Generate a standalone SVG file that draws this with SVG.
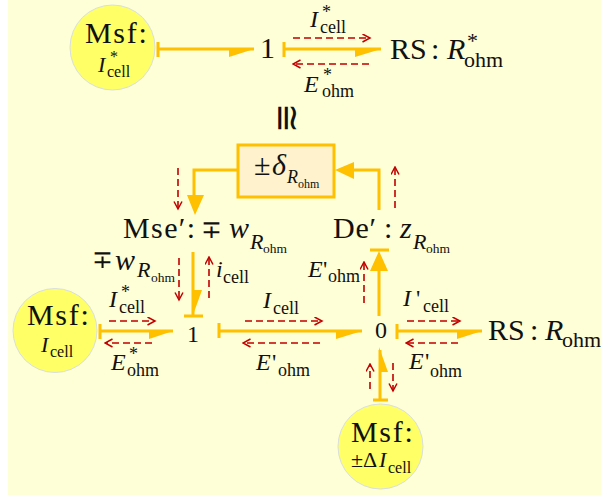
<svg xmlns="http://www.w3.org/2000/svg" width="601" height="497" viewBox="0 0 601 497">
<defs><marker id="red" markerWidth="10" markerHeight="10" refX="8.5" refY="4.5" orient="auto" markerUnits="userSpaceOnUse"><path d="M1 0.5L8.5 4.5L1 8.5" fill="none" stroke="#c00000" stroke-width="1.5"/></marker></defs>
<style>
text{font-family:"Liberation Serif","Times New Roman",serif;fill:#111}
.i{font-style:italic}
.f30{font-size:30px}
.ms{font-size:30px;letter-spacing:1.7px}
.f24{font-size:24px}
.f22{font-size:22px}
.f18{font-size:18px}
.f16{font-size:16px}
.f13{font-size:13.5px}
.f12{font-size:12px}
.mp{font-size:25px;font-family:"DejaVu Sans",sans-serif;font-weight:200}
.bond{stroke:#ffc000;stroke-width:3;fill:none}
.head{fill:#ffc000;stroke:none}
.sig{stroke:#c00000;stroke-width:1.6;stroke-dasharray:7 4;fill:none;marker-end:url(#red)}
.src{fill:#ffff66;stroke:#d8dfe0;stroke-width:1}
</style>
<rect width="601" height="497" fill="#ffffff"/>
<rect x="8" y="0" width="593" height="495" fill="#ffffd7"/>
<g id="connectors">
<path class="bond" d="M158 49H254M284 49H381M193 252V315M219 331H362M397 331H482M380 400V350M379 270V316M100 331H173M379 210V170H340M237 170H194V198"/>
<path class="head" d="M229 57L254 49H229ZM355 57L381 49H355ZM149 339L173 331H149ZM457 339L482 331H457ZM193 315L202 290H193ZM379 347L388 372H379ZM336 339L362 331H336ZM370 271L379 251 388 271ZM335 170L354 162V179ZM195 215L187 195H204Z"/>
<path class="bond" d="M158 42V57M284 42V57M100 324V339M184 316H203M219 323V338M397 324V339M373 400H388M370 250H389"/>
<path class="sig" d="M293 38H370"/><path class="sig" d="M369 64H293"/>
<path class="sig" d="M178 168V209"/><path class="sig" d="M395 208V167"/>
<path class="sig" d="M179 258V300"/><path class="sig" d="M209 298V257"/><path class="sig" d="M364 303V262"/>
<path class="sig" d="M109 321H155"/><path class="sig" d="M152 343H105"/>
<path class="sig" d="M245 321H322"/><path class="sig" d="M320 343H243"/>
<path class="sig" d="M407 321H460"/><path class="sig" d="M458 343H406"/>
<path class="sig" d="M370 389V364"/><path class="sig" d="M393 363V391"/>
</g>
<g id="msf-top"><circle class="src" cx="112.500" cy="47.500" r="42.500"/><text class="ms" x="85" y="43">Msf:</text><text x="98" y="72"><tspan class="f22 i">I</tspan><tspan class="f16" x="110" y="62">*</tspan><tspan class="f16" x="107" y="77">cell</tspan></text></g>
<g id="one-top"><text class="f30" x="260" y="58">1</text></g>
<g id="rs-top"><text x="390" y="59"><tspan class="f30">RS</tspan><tspan class="f30" x="431">:</tspan><tspan class="f30 i" x="447">R</tspan><tspan class="f22" x="467" y="48">*</tspan><tspan class="f22" x="464" y="67">ohm</tspan></text></g>
<g id="lbl-top"><text x="310" y="27"><tspan class="f24 i">I</tspan><tspan class="f18" x="322" y="18">*</tspan><tspan class="f18" x="320" y="33">cell</tspan></text><text x="304" y="92"><tspan class="f24 i">E</tspan><tspan class="f18" x="323" y="81">*</tspan><tspan class="f18" x="322" y="97">ohm</tspan></text></g>
<g id="equiv"><text class="f30" style="font-size:36px" transform="translate(275 103) rotate(90)">≅</text></g>
<g id="delta"><rect x="238" y="145" width="96" height="52" fill="#fff2cc" stroke="#ffc000" stroke-width="3"/><text x="254" y="175"><tspan class="f30">±</tspan><tspan class="f30 i" x="272">δ</tspan><tspan class="f18 i" x="287" y="183">R</tspan><tspan class="f12" x="298" y="188">ohm</tspan></text></g>
<g id="mse"><text x="123" y="238"><tspan class="f30" letter-spacing="1.4">Mse′:</tspan><tspan class="mp" x="201">∓</tspan><tspan class="f30 i" x="229">w</tspan><tspan class="f22 i" x="250" y="249">R</tspan><tspan class="f13" x="263" y="253">ohm</tspan></text></g>
<g id="de"><text x="333" y="238"><tspan class="f30" letter-spacing="0.8">De′</tspan><tspan class="f30" x="384">:</tspan><tspan class="f30 i" x="400">z</tspan><tspan class="f22 i" x="413" y="249">R</tspan><tspan class="f13" x="426" y="253">ohm</tspan></text></g>
<g id="lbl-w"><text x="92" y="268"><tspan class="mp">∓</tspan><tspan class="f30 i" x="115" y="270">w</tspan><tspan class="f22 i" x="137" y="277">R</tspan><tspan class="f13" x="151" y="282">ohm</tspan></text></g>
<g id="lbl-i"><text x="216" y="277"><tspan class="f24 i">i</tspan><tspan class="f18" x="223" y="283">cell</tspan></text></g>
<g id="lbl-e"><text x="308" y="277"><tspan class="f24 i">E</tspan><tspan class="f24" x="323">'</tspan><tspan class="f18" x="328" y="282">ohm</tspan></text></g>
<g id="msf-left"><circle class="src" cx="55" cy="330.500" r="42"/><text class="ms" x="27" y="325">Msf:</text><text x="41" y="352"><tspan class="f22 i">I</tspan><tspan class="f16" x="50" y="357">cell</tspan></text></g>
<g id="one"><text class="f24" x="187" y="342">1</text></g>
<g id="zero"><text class="f24" x="375" y="338">0</text></g>
<g id="rs"><text x="488" y="340"><tspan class="f30">RS</tspan><tspan class="f30" x="530">:</tspan><tspan class="f30 i" x="545">R</tspan><tspan class="f22" x="562" y="347">ohm</tspan></text></g>
<g id="msf-bottom"><circle class="src" cx="380.500" cy="446.500" r="42.500"/><text class="ms" x="351" y="442">Msf:</text><text x="351" y="467"><tspan class="f22">±Δ</tspan><tspan class="f22 i" x="379">I</tspan><tspan class="f16" x="388" y="473">cell</tspan></text></g>
<g id="lbl-bond"><text x="109" y="307"><tspan class="f24 i">I</tspan><tspan class="f18" x="121" y="298">*</tspan><tspan class="f18" x="119" y="313">cell</tspan></text><text x="111" y="370"><tspan class="f24 i">E</tspan><tspan class="f18" x="129" y="360">*</tspan><tspan class="f18" x="127" y="376">ohm</tspan></text><text x="263" y="308"><tspan class="f24 i">I</tspan><tspan class="f18" x="273" y="314">cell</tspan></text><text x="256" y="370"><tspan class="f24 i">E</tspan><tspan class="f24" x="272">'</tspan><tspan class="f18" x="278" y="376">ohm</tspan></text><text x="403" y="306"><tspan class="f24 i">I</tspan><tspan class="f24" x="416">'</tspan><tspan class="f18" x="423" y="312">cell</tspan></text><text x="409" y="369"><tspan class="f24 i">E</tspan><tspan class="f24" x="425">'</tspan><tspan class="f18" x="430" y="377">ohm</tspan></text></g>
</svg>
